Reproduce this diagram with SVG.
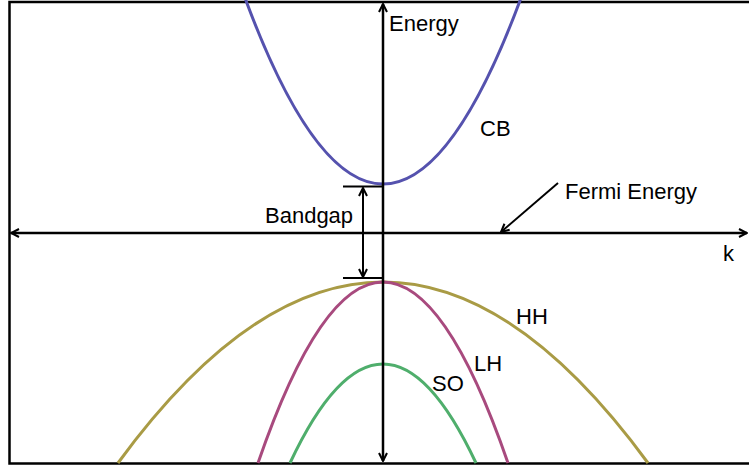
<svg xmlns="http://www.w3.org/2000/svg" width="749" height="468" viewBox="0 0 749 468">
<defs>
<marker id="arr" viewBox="0 0 10 10" refX="9" refY="5" markerWidth="10" markerHeight="10" markerUnits="userSpaceOnUse" orient="auto-start-reverse">
<path d="M1,1 L9,5 L1,9" fill="none" stroke="#000" stroke-width="2"/>
</marker>
<style>
.t{font-family:"Liberation Sans",Arial,sans-serif;font-size:22px;fill:#000}
.ax{stroke:#000;stroke-width:2.5;fill:none}
.bd{fill:none;stroke-width:3}
</style>
</defs>
<rect width="749" height="468" fill="#fff"/>
<g id="frame">
<path d="M760,2 L9.5,2 L9.5,463.5 L760,463.5" fill="none" stroke="#000" stroke-width="2.5"/>
</g>
<g id="bands">
<path id="CB" class="bd" stroke="#5552AE" d="M245,-2 Q383,370 521,-2"/>
<path id="HH" class="bd" stroke="#A99B45" d="M118,463 Q383,101 648,463"/>
<path id="LH" class="bd" stroke="#A84A7E" d="M258,463 Q383,101 508,463"/>
<path id="SO" class="bd" stroke="#4FAE6C" d="M290,463 Q383,265 476,463"/>
</g>
<g id="connectors">
<line class="ax" x1="383" y1="461" x2="383" y2="4" marker-start="url(#arr)" marker-end="url(#arr)"/>
<line class="ax" x1="11" y1="233" x2="747" y2="233" marker-start="url(#arr)" marker-end="url(#arr)"/>
<line stroke="#000" stroke-width="2" x1="343" y1="186.5" x2="383" y2="186.5"/>
<line stroke="#000" stroke-width="2" x1="343" y1="278" x2="383" y2="278"/>
<line stroke="#000" stroke-width="2" x1="363" y1="188" x2="363" y2="277" marker-start="url(#arr)" marker-end="url(#arr)"/>
<line stroke="#000" stroke-width="2" x1="558" y1="183" x2="501" y2="232" marker-end="url(#arr)"/>
</g>
<g id="labels">
<text class="t" x="389" y="31">Energy</text>
<text class="t" x="480" y="136">CB</text>
<text class="t" x="265" y="223">Bandgap</text>
<text class="t" x="565" y="199">Fermi Energy</text>
<text class="t" x="723" y="261">k</text>
<text class="t" x="516" y="324">HH</text>
<text class="t" x="474" y="371">LH</text>
<text class="t" x="432" y="391">SO</text>
</g>
</svg>
